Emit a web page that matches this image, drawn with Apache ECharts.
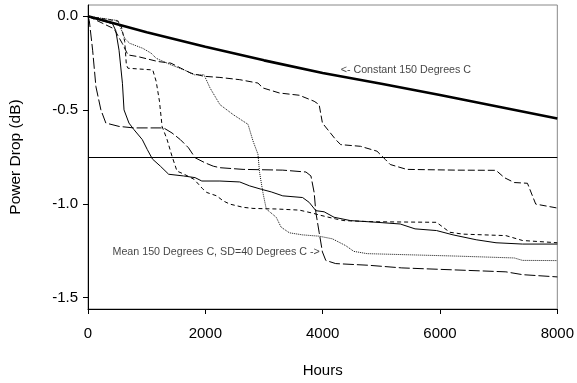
<!DOCTYPE html>
<html><head><meta charset="utf-8">
<script src="https://cdn.jsdelivr.net/npm/echarts@6/dist/echarts.min.js"></script>
<style>html,body{margin:0;padding:0;background:#fff}#c{width:577px;height:383px}</style>
</head><body><div id="c"></div>
<script>
// X tick labels / Y tick values
const xTicks = [0, 2000, 4000, 6000, 8000];
const yTicks = [0, -0.5, -1.0, -1.5];
const threshold = -0.75;

// Constant 150 Degrees C
const constHours = [0, 1000, 2000, 3000, 4000, 5000, 6000, 7000, 8000];
const constDrop  = [0, -0.085, -0.163, -0.235, -0.302, -0.360, -0.420, -0.482, -0.545];

// Sample A (solid thin)
const hoursA = [0, 418, 473, 529, 587, 614, 698, 783, 925, 1010, 1099, 1234, 1375, 1628, 1826, 1940, 2249, 2587, 2756, 2954, 3123, 3320, 3658, 3771, 3884, 4025, 4194, 4476, 4926, 5322, 5575, 5941, 6223, 6617, 6955, 7407, 8000];
const dropA  = [0, -0.040, -0.076, -0.181, -0.357, -0.499, -0.569, -0.604, -0.657, -0.710, -0.761, -0.799, -0.842, -0.851, -0.860, -0.878, -0.878, -0.883, -0.904, -0.922, -0.936, -0.957, -0.966, -0.992, -1.036, -1.042, -1.071, -1.089, -1.098, -1.107, -1.133, -1.142, -1.165, -1.191, -1.207, -1.214, -1.214];

// Sample B (short dash)
const hoursB = [0, 512, 570, 626, 654, 681, 1104, 1162, 1218, 1263, 1348, 1432, 1517, 1640, 1809, 1950, 2024, 2193, 2305, 2418, 2643, 2812, 3208, 3602, 3827, 3940, 4222, 4363, 4870, 5940, 6167, 6392, 7124, 7407, 8000];
const dropB  = [0, -0.026, -0.056, -0.135, -0.259, -0.277, -0.286, -0.347, -0.453, -0.587, -0.657, -0.746, -0.825, -0.842, -0.869, -0.918, -0.939, -0.957, -0.984, -1.001, -1.018, -1.024, -1.027, -1.033, -1.049, -1.059, -1.080, -1.089, -1.095, -1.098, -1.151, -1.161, -1.169, -1.195, -1.207];

// Sample C (dotted)
const hoursC = [0, 507, 626, 710, 935, 1077, 1162, 1415, 1640, 1809, 1978, 2080, 2249, 2474, 2728, 2812, 2897, 2925, 2981, 3039, 3208, 3292, 3433, 3658, 3940, 4165, 4391, 4532, 4757, 6279, 7266, 7407, 8000];
const dropC  = [0, -0.023, -0.118, -0.144, -0.171, -0.197, -0.224, -0.259, -0.286, -0.312, -0.312, -0.382, -0.471, -0.524, -0.576, -0.664, -0.735, -0.833, -0.939, -1.027, -1.071, -1.124, -1.154, -1.165, -1.172, -1.186, -1.222, -1.253, -1.265, -1.278, -1.288, -1.301, -1.302];

// Sample D (long dash, early drop)
const hoursD = [0, 22, 79, 135, 220, 304, 529, 783, 1290, 1432, 1573, 1713, 1826, 1995, 2136, 2249, 2643, 3320, 3715, 3800, 3855, 3884, 3940, 3996, 4053, 4222, 4786, 5349, 6448, 7124, 7407, 8000];
const dropD  = [0, -0.023, -0.181, -0.375, -0.499, -0.569, -0.587, -0.595, -0.595, -0.622, -0.657, -0.701, -0.754, -0.781, -0.799, -0.807, -0.816, -0.820, -0.830, -0.851, -0.939, -1.045, -1.151, -1.256, -1.301, -1.318, -1.327, -1.341, -1.354, -1.362, -1.377, -1.389];

// Sample E (medium dash, late drop)
const hoursE = [0, 445, 587, 681, 851, 1189, 1415, 1584, 1754, 1978, 2249, 2587, 2897, 2981, 3264, 3602, 3855, 3940, 3996, 4222, 4307, 4645, 4926, 5068, 5152, 5433, 6279, 6955, 7097, 7266, 7491, 7632, 8000];
const dropE  = [0, -0.067, -0.146, -0.206, -0.215, -0.241, -0.250, -0.277, -0.303, -0.320, -0.326, -0.338, -0.356, -0.382, -0.409, -0.421, -0.453, -0.471, -0.569, -0.657, -0.684, -0.693, -0.719, -0.763, -0.790, -0.816, -0.820, -0.821, -0.860, -0.886, -0.890, -1.001, -1.022];

const constLabel = '<- Constant 150 Degrees C';
const meanLabel = 'Mean 150 Degrees C, SD=40 Degrees C ->';

const zip = (h, v) => h.map((x, i) => [x, v[i]]);
const FONT = 'Liberation Sans, Arial, sans-serif';

function line(name, h, v, width, type, color) {
  return {
    name, type: 'line', data: zip(h, v), symbol: 'none', showSymbol: false,
    silent: true, animation: false,
    lineStyle: { color: color || '#000', width, type }
  };
}

const chart = echarts.init(document.getElementById('c'), null, { renderer: 'canvas' });
chart.setOption({
  animation: false,
  backgroundColor: '#fff',
  grid: { left: 87, right: 17, top: 5, bottom: 72, show: true, borderColor: '#888', borderWidth: 1, backgroundColor: 'transparent' },
  xAxis: {
    type: 'value', min: 0, max: 8000, interval: 2000,
    name: 'Hours', nameLocation: 'middle', nameGap: 54,
    nameTextStyle: { fontFamily: FONT, fontSize: 15, color: '#000' },
    axisLine: { show: true, onZero: false, lineStyle: { color: '#000', width: 1 } },
    axisTick: { show: true, inside: false, length: 5, lineStyle: { color: '#000' } },
    axisLabel: { fontFamily: FONT, fontSize: 15, color: '#000', margin: 17, formatter: v => String(v) },
    splitLine: { show: false }
  },
  yAxis: {
    type: 'value', min: -1.56, max: 0.06,
    name: 'Power Drop (dB)', nameLocation: 'middle', nameGap: 64, nameRotate: 90,
    nameTextStyle: { fontFamily: FONT, fontSize: 15.5, color: '#000' },
    axisLine: { show: true, onZero: false, lineStyle: { color: '#000', width: 1 } },
    axisTick: { show: true, inside: false, length: 5, customValues: yTicks, lineStyle: { color: '#000' } },
    axisLabel: { fontFamily: FONT, fontSize: 15, color: '#000', margin: 10, customValues: yTicks, formatter: v => v.toFixed(1) },
    splitLine: { show: false }
  },
  series: [
    Object.assign(line('Constant', constHours, constDrop, 2.6, 'solid'), {
      markLine: { symbol: 'none', silent: true, animation: false, label: { show: false },
        lineStyle: { color: '#000', width: 1, type: 'solid' }, data: [{ yAxis: threshold }] }
    }),
    line('A', hoursA, dropA, 1, 'solid'),
    line('B', hoursB, dropB, 1, [4, 3]),
    line('C', hoursC, dropC, 1, [1, 1], '#111'),
    line('D', hoursD, dropD, 1, [11, 3]),
    line('E', hoursE, dropE, 1, [7, 3]),
    {
      type: 'scatter', silent: true, symbolSize: 0, animation: false,
      data: [
        { value: [4307, -0.287], label: { show: true, position: 'right', distance: 0, formatter: constLabel } },
        { value: [3952, -1.2565], label: { show: true, position: 'left', distance: 0, formatter: meanLabel } }
      ],
      label: { fontFamily: FONT, fontSize: 10.7, color: '#111' }
    }
  ]
});
</script>
</body></html>
